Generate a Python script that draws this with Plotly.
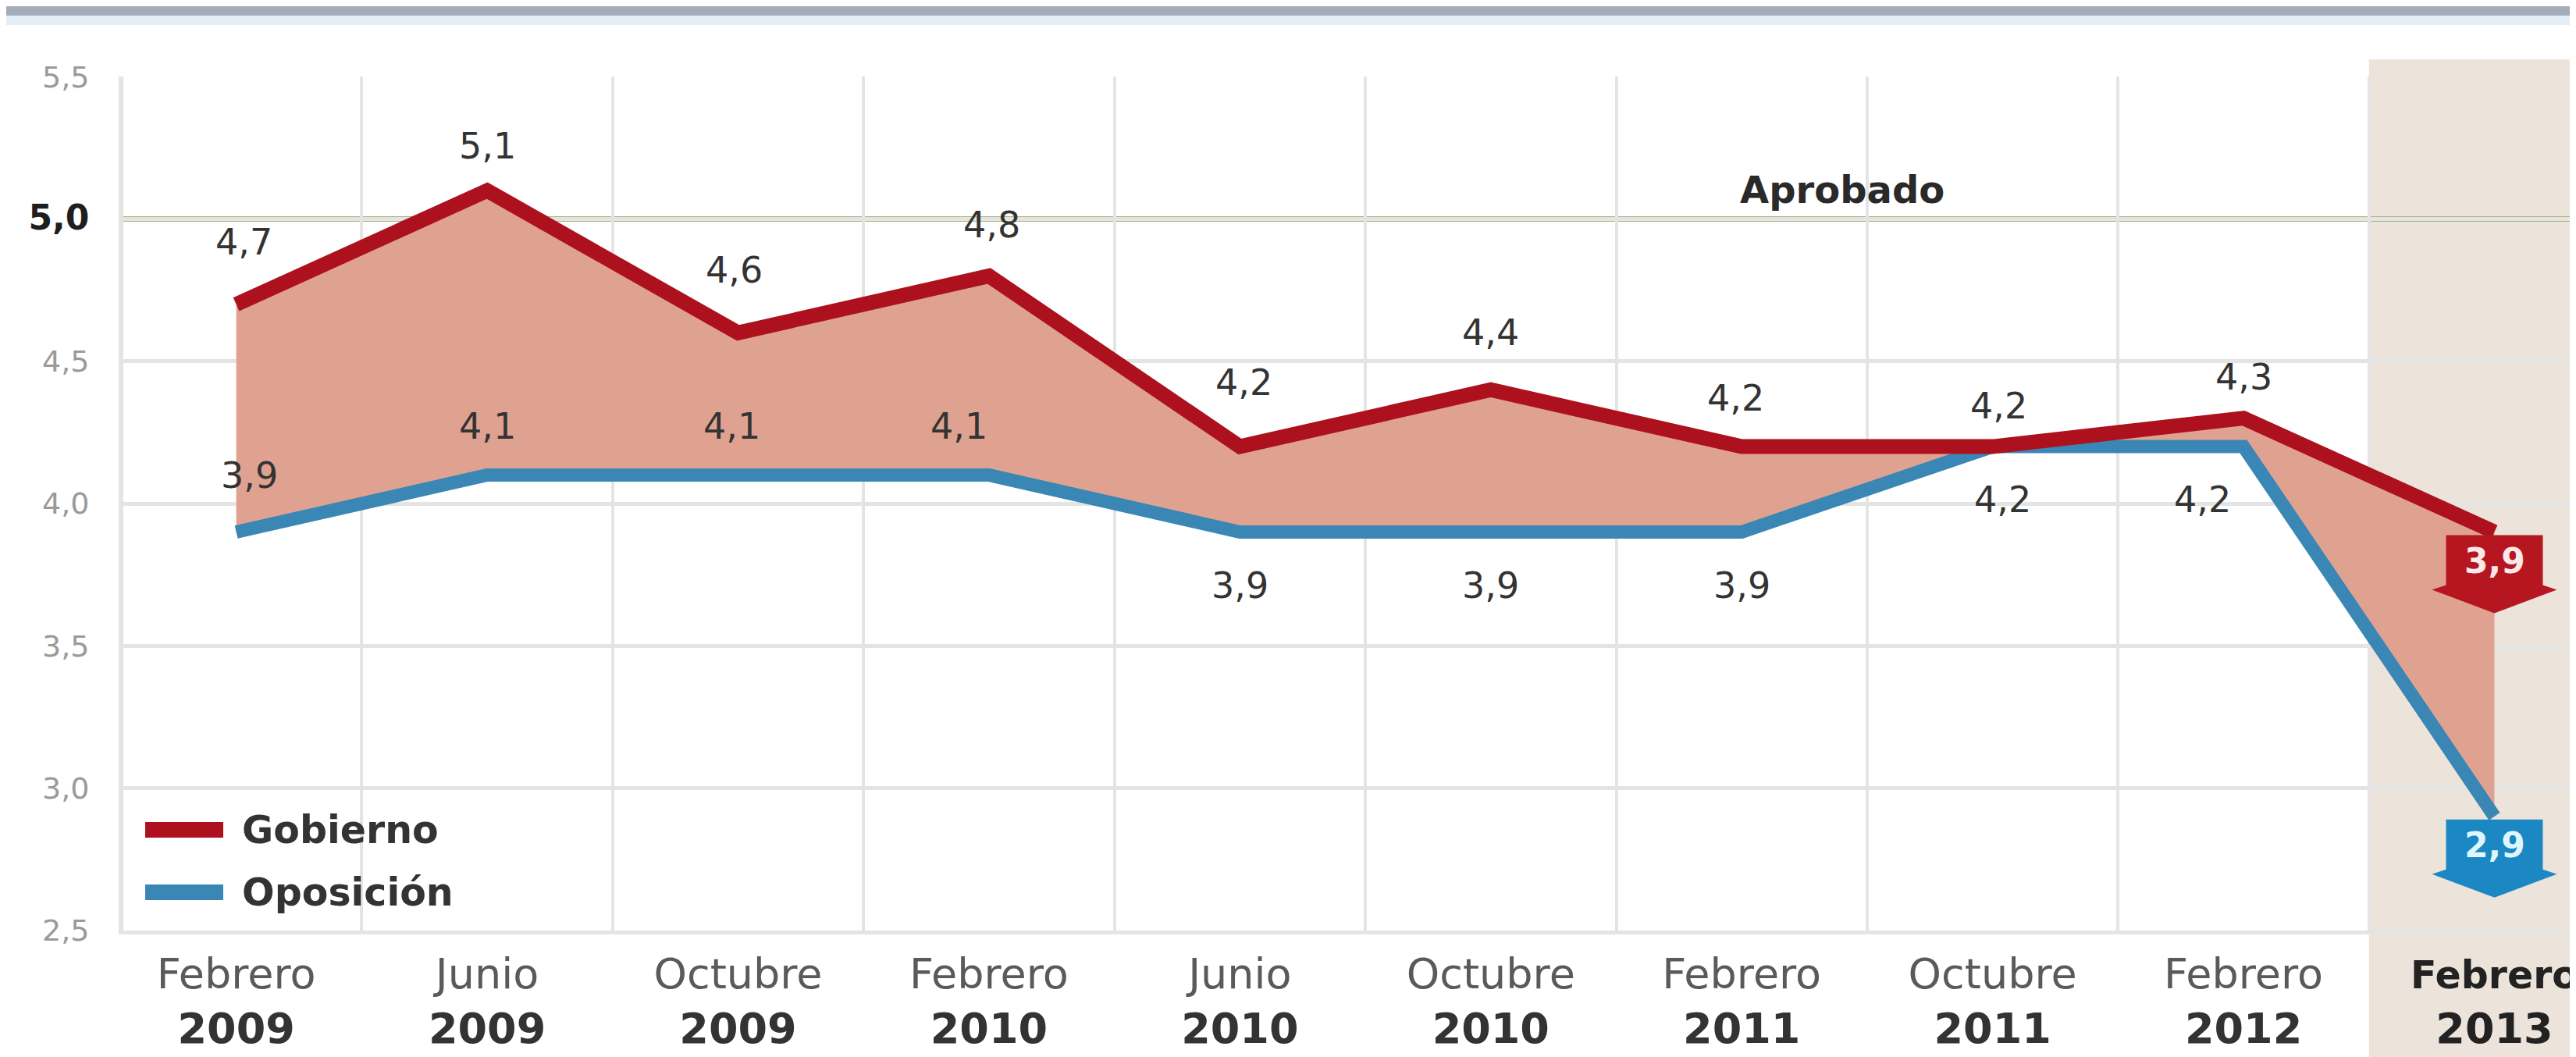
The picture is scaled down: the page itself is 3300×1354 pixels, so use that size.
import plotly.graph_objects as go

# ---------------- data ----------------
months = ["Febrero", "Junio", "Octubre", "Febrero", "Junio", "Octubre",
          "Febrero", "Octubre", "Febrero", "Febrero"]
years = ["2009", "2009", "2009", "2010", "2010", "2010",
         "2011", "2011", "2012", "2013"]
gobierno = [4.7, 5.1, 4.6, 4.8, 4.2, 4.4, 4.2, 4.2, 4.3, 3.9]
oposicion = [3.9, 4.1, 4.1, 4.1, 3.9, 3.9, 3.9, 4.2, 4.2, 2.9]
y_ticks = [2.5, 3.0, 3.5, 4.0, 4.5, 5.0, 5.5]
aprobado = 5.0
aprobado_text = "Aprobado"
series_names = ["Gobierno", "Oposición"]

# ---------------- style ----------------
W, H = 3300, 1354
ML, MR, MT, MB = 150, 0, 90, 170
PW, PH = W - ML - MR, H - MT - MB
XR = [-0.45, 9.35]
FONT = "DejaVu Sans"
RED = "#ad111d"
BLUE = "#3a87b5"
FILL = "#e0a290"
BEIGE = "#ece4da"
GRID = "#e4e4e4"
GREEN = "#aab57a"

# label offsets (px) for the points, except the last one (boxed)
gob_dy = [80, 57, 80, 65, 82, 73, 62, 52, 53]
gob_dx = [10, 0, -5, 4, 5, 0, -8, 8, 0]
opo_dy = [72, 63, 63, 63, -69, -69, -69, -68, -68]
opo_dx = [17, 0, -8, -38, 0, 0, 0, 13, -53]
aprobado_label_x = 6.4


def ppx(xp):
    return (xp - ML) / PW


def ppy(yp):
    return (H - MB - yp) / PH


def fmt(v):
    return f"{v:.1f}".replace(".", ",")


n = len(months)
xs = list(range(n))

fig = go.Figure()

# Oposición first (fill target), Gobierno fills down to it
fig.add_trace(go.Scatter(
    x=xs, y=oposicion, mode="lines", name=series_names[1],
    line=dict(color=BLUE, width=17), showlegend=False, hoverinfo="skip"))
fig.add_trace(go.Scatter(
    x=xs, y=gobierno, mode="lines", name=series_names[0],
    line=dict(color=RED, width=19), fill="tonexty", fillcolor=FILL,
    showlegend=False, hoverinfo="skip"))

shapes = []
# highlighted last column
hl_x = (n - 1.5 - XR[0]) / (XR[1] - XR[0])
shapes.append(dict(type="rect", xref="paper", yref="paper", layer="below",
                   x0=hl_x, x1=1.01, y0=ppy(H + 5), y1=ppy(68),
                   fillcolor=BEIGE, line=dict(width=0)))
# header bars
shapes.append(dict(type="rect", xref="paper", yref="paper", layer="below",
                   x0=ppx(0), x1=ppx(W), y0=ppy(12), y1=ppy(-2),
                   fillcolor="#a4aeb8", line=dict(width=0)))
shapes.append(dict(type="rect", xref="paper", yref="paper", layer="below",
                   x0=ppx(0), x1=ppx(W), y0=ppy(24), y1=ppy(12),
                   fillcolor="#e4eef6", line=dict(width=0)))
# aprobado line
shapes.append(dict(type="line", xref="paper", yref="y", layer="between",
                   x0=0, x1=1, y0=aprobado, y1=aprobado,
                   line=dict(color=GREEN, width=7)))

# final-value boxes (arrow flags)
flag_path = "M -62 -4 L 62 -4 L 62 -68 L 80 -74 L 0 -104 L -80 -74 L -62 -68 Z"
for vals, col in ((gobierno, "#b5161f"), (oposicion, "#1c88c3")):
    shapes.append(dict(type="path", xref="x", yref="y", layer="above",
                       xsizemode="pixel", ysizemode="pixel",
                       xanchor=xs[-1], yanchor=vals[-1], path=flag_path,
                       fillcolor=col, line=dict(width=0)))

# legend swatches
leg_y = [1055, 1135]
for yy, col in zip(leg_y, (RED, BLUE)):
    shapes.append(dict(type="line", xref="paper", yref="paper",
                       x0=ppx(178), x1=ppx(278), y0=ppy(yy), y1=ppy(yy),
                       line=dict(color=col, width=20)))

annotations = []
for i in range(n - 1):
    annotations.append(dict(x=xs[i], y=gobierno[i], text=fmt(gobierno[i]),
                            showarrow=False, xshift=gob_dx[i], yshift=gob_dy[i],
                            font=dict(family=FONT, size=46, color="#333333")))
    annotations.append(dict(x=xs[i], y=oposicion[i], text=fmt(oposicion[i]),
                            showarrow=False, xshift=opo_dx[i], yshift=opo_dy[i],
                            font=dict(family=FONT, size=46, color="#333333")))
annotations.append(dict(x=xs[-1], y=gobierno[-1], text="<b>" + fmt(gobierno[-1]) + "</b>",
                        showarrow=False, yshift=-37,
                        font=dict(family=FONT, size=44, color="#fbe9e9")))
annotations.append(dict(x=xs[-1], y=oposicion[-1], text="<b>" + fmt(oposicion[-1]) + "</b>",
                        showarrow=False, yshift=-37,
                        font=dict(family=FONT, size=44, color="#dff6ff")))
annotations.append(dict(x=aprobado_label_x, y=aprobado, text="<b>" + aprobado_text + "</b>",
                        showarrow=False, yanchor="bottom", yshift=8,
                        font=dict(family=FONT, size=48, color="#2a2a2a")))
for yy, name in zip(leg_y, series_names):
    annotations.append(dict(xref="paper", yref="paper", x=ppx(300), y=ppy(yy),
                            xanchor="left", yanchor="middle", showarrow=False,
                            text="<b>" + name + "</b>",
                            font=dict(family=FONT, size=49, color="#333333")))

# tick texts
xt = []
for i, (m, y) in enumerate(zip(months, years)):
    if i == n - 1:
        xt.append(f"<span style='color:#222;font-size:49px'><b>{m}</b></span><br>"
                  f"<span style='color:#222'><b>{y}</b></span>")
    else:
        xt.append(f"<span style='color:#5a5a5a'>{m}</span><br><span style='color:#333'><b>{y}</b></span>")
yt = []
for v in y_ticks:
    if v == aprobado:
        yt.append(f"<span style='color:#1e1e1e;font-size:44px'><b>{fmt(v)}</b></span>")
    else:
        yt.append(fmt(v))

fig.update_layout(
    width=W, height=H,
    margin=dict(l=ML, r=MR, t=MT, b=MB, pad=0),
    paper_bgcolor="white", plot_bgcolor="rgba(0,0,0,0)",
    shapes=shapes, annotations=annotations, showlegend=False,
    font=dict(family=FONT),
    xaxis=dict(range=XR, tickmode="array", tickvals=xs, ticktext=xt,
               showgrid=False, zeroline=False, ticks="",
               tickfont=dict(family=FONT, size=54, color="#444"),
               ticklabelstandoff=4, ticklabeloverflow="allow",
               showline=True, linecolor=GRID, linewidth=5,
               minor=dict(tickmode="array", tickvals=[i + 0.5 for i in range(n - 1)],
                          showgrid=True, gridcolor=GRID, gridwidth=4, ticks="")),
    yaxis=dict(range=[y_ticks[0] - 0.001, y_ticks[-1] + 0.001], tickmode="array",
               tickvals=y_ticks, ticktext=yt, showgrid=True, gridcolor=GRID,
               gridwidth=5, zeroline=False, ticks="",
               tickfont=dict(family=FONT, size=38, color="#9a9a9a"),
               ticklabelstandoff=30,
               showline=True, linecolor=GRID, linewidth=6),
)

fig.write_html("out.html")
